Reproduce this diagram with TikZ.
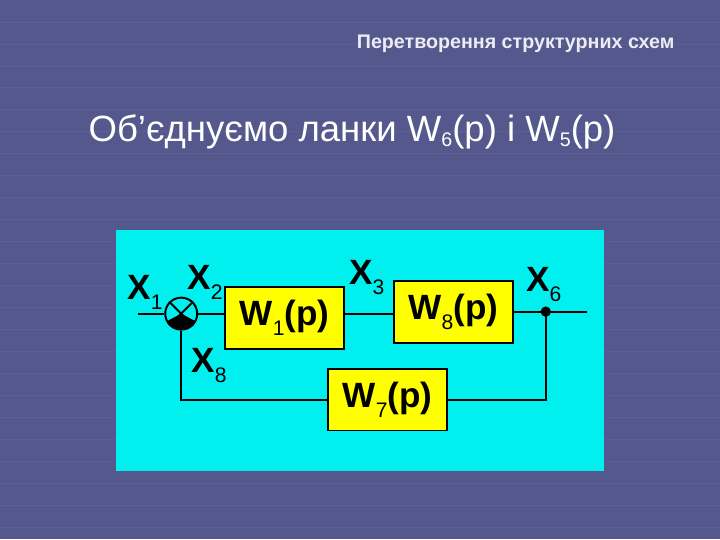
\documentclass[tikz,border=0pt]{standalone}
\usepackage{fontspec}
\setmainfont{Liberation Sans}
\usetikzlibrary{positioning,calc}
\definecolor{slidebg}{HTML}{55588C}
\definecolor{slideline}{HTML}{6A6D9E}
\definecolor{schemefill}{HTML}{00F0F0}
\definecolor{blockfill}{HTML}{FFFF00}
\definecolor{titletext}{HTML}{ECECF4}
\newcommand{\blksub}[1]{\raisebox{-7pt}{\fontsize{15}{15}\mdseries\selectfont #1}}
\newcommand{\headsub}[1]{\raisebox{-3pt}{\fontsize{14}{14}\selectfont #1}}
\tikzset{wblock/.style={rectangle, draw=black, line width=1.4pt, fill=blockfill, minimum width=2.975cm, minimum height=1.55cm, inner sep=0pt, font=\bfseries\fontsize{25}{28}\selectfont}}
\tikzset{xlabel/.style={inner sep=0pt, font=\bfseries\fontsize{25}{28}\selectfont}}
\tikzset{wire/.style={draw=black, line width=1.4pt}}
\tikzset{sumnode/.style={circle, draw=black, line width=1.4pt, minimum size=0.8cm, inner sep=0pt}}

\begin{document}
\begin{tikzpicture}[x=0.025cm, y=-0.025cm]
  % slide background
  \fill[slidebg] (0,0) rectangle (720,540);
  \foreach \yy in {22,44,...,530} {
    \draw[slideline, opacity=0.35, line width=0.6pt] (0,\yy) -- (720,\yy);
  }
  \node[anchor=base east, text=titletext, font=\bfseries\fontsize{14}{17}\selectfont, inner sep=0pt] (title) at (675,49) {Перетворення структурних схем};
  \node[anchor=base west, text=white, font=\fontsize{26}{30}\selectfont, inner sep=0pt] (heading) at (88,142) {Об’єднуємо ланки W\headsub{6}(p) і W\headsub{5}(p)};

  % scheme panel
  \fill[schemefill] (116,230) rectangle (604,472);

  \node[sumnode] (sum) at (181,314) {};
  \fill[black] (sum.center) -- ++(-28:0.4cm) arc[start angle=-28, end angle=-152, radius=0.4cm] -- cycle;
  \draw[wire] (sum.45) -- (sum.225);
  \draw[wire] (sum.135) -- (sum.-45);

  \node[wblock] (w1) at (284.5,318) {W\blksub{1}(p)};
  \node[wblock] (w8) at (453.5,312) {W\blksub{8}(p)};
  \node[wblock] (w7) at (387.5,400) {W\blksub{7}(p)};

  \coordinate (xin) at (138,314);
  \coordinate (xout) at (587,312);
  \fill[black] (546,312) circle[radius=0.13cm];
  \coordinate (tap) at (546,312);

  \draw[wire] (xin) -- (sum.west);
  \draw[wire] (sum.east) -- (sum.east -| w1.west);
  \draw[wire] (w1.east |- sum) -- (w8.west |- sum);
  \draw[wire] (w8.east) -- (xout);
  \draw[wire] (tap) |- (w7.east);
  \draw[wire] (w7.west) -| (sum.south);

  \node[xlabel, anchor=base west] (x1) at (127,300) {X\blksub{1}};
  \node[xlabel, anchor=base west] (x2) at (187,290) {X\blksub{2}};
  \node[xlabel, anchor=base west] (x3) at (349,285) {X\blksub{3}};
  \node[xlabel, anchor=base west] (x6) at (526,292) {X\blksub{6}};
  \node[xlabel, anchor=base west] (x8) at (191,373) {X\blksub{8}};
\end{tikzpicture}
\end{document}
